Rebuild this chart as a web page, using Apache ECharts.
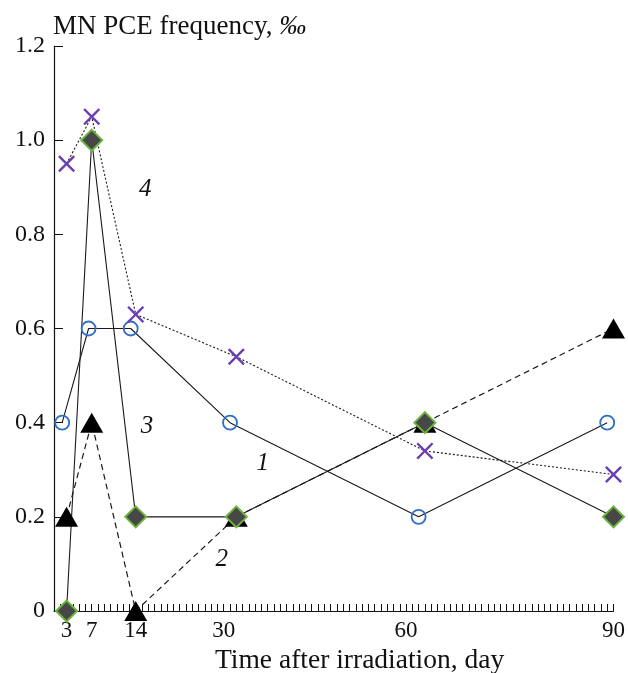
<!DOCTYPE html>
<html>
<head>
<meta charset="utf-8">
<script src="https://cdn.jsdelivr.net/npm/echarts@6/dist/echarts.min.js"></script>
<style>
  html, body { margin: 0; padding: 0; background: #fff; }
  #chart { width: 628px; height: 673px; }
</style>
</head>
<body>
<div id="chart"></div>
<script>
// x positions (days); curve 1 is printed ~1 day left of the others
var days1 = [2.3, 6.5, 13.2, 29, 59, 89];
var days = [3, 7, 14, 30, 60, 90];
var curve1 = [0.4, 0.6, 0.6, 0.4, 0.2, 0.4];
var curve2 = [0.2, 0.4, 0, 0.2, 0.4, 0.6];
var curve3 = [0, 1.0, 0.2, 0.2, 0.4, 0.2];
var curve4 = [0.95, 1.05, 0.63, 0.54, 0.34, 0.29];

// tick labels and the day where the figure prints them
var xTickLabels = ['3', '7', '14', '30', '60', '90'];
var xTickAt = [3, 7, 14, 28, 57, 90];

// curve numbers written on the plot
var curveNames = ['1', '2', '3', '4'];
var curveNameDay = [34.2, 27.7, 15.8, 15.5];
var curveNameValue = [0.314, 0.110, 0.392, 0.896];

var serif = '"Liberation Serif", "DejaVu Serif", serif';

function zip(xs, ys) {
  return xs.map(function (x, i) { return [x, ys[i]]; });
}

// a label for a curve, placed in data coordinates
function curveLabel(i) {
  return {
    symbol: 'circle',
    symbolSize: 1,
    itemStyle: { color: 'transparent' },
    label: {
      show: true,
      position: 'inside',
      formatter: curveNames[i],
      color: '#111',
      fontFamily: serif,
      fontStyle: 'italic',
      fontSize: 25
    },
    data: [{ coord: [curveNameDay[i], curveNameValue[i]] }]
  };
}

var lineColor = '#1a1a1a';

var option = {
  backgroundColor: '#fff',
  animation: false,
  title: [
    {
      text: 'MN PCE frequency, {i|‰}',
      left: 48,
      top: 8,
      textStyle: {
        fontFamily: serif,
        fontSize: 27,
        fontWeight: 'normal',
        color: '#111',
        rich: { i: { fontFamily: serif, fontSize: 27, fontStyle: 'italic', color: '#111' } }
      }
    },
    {
      text: 'Time after irradiation, day',
      left: 210,
      top: 642,
      textStyle: { fontFamily: serif, fontSize: 27.5, fontWeight: 'normal', color: '#111' }
    }
  ],
  grid: { left: 54, right: 14, top: 46, bottom: 62, containLabel: false },
  xAxis: {
    type: 'value',
    min: 1,
    max: 90,
    interval: 1,
    splitLine: { show: false },
    axisLine: { lineStyle: { color: '#111', width: 1.2 } },
    axisTick: { inside: true, length: 7, lineStyle: { color: '#111', width: 1 } },
    axisLabel: {
      margin: 8,
      fontFamily: serif,
      fontSize: 23,
      color: '#111',
      showMinLabel: true,
      showMaxLabel: true,
      formatter: function (v) {
        var i = xTickAt.indexOf(Math.round(v));
        return i < 0 ? '' : xTickLabels[i];
      }
    }
  },
  yAxis: {
    type: 'value',
    min: 0,
    max: 1.2,
    interval: 0.2,
    splitLine: { show: false },
    axisLine: { show: true, lineStyle: { color: '#111', width: 1.2 } },
    axisTick: { show: true, inside: true, length: 9, lineStyle: { color: '#111', width: 1 } },
    axisLabel: {
      margin: 9,
      fontFamily: serif,
      fontSize: 24,
      color: '#111',
      formatter: function (v) { return v === 0 ? '0' : v.toFixed(1); }
    }
  },
  series: [
    {
      name: '1',
      type: 'line',
      data: zip(days1, curve1),
      symbol: 'circle',
      symbolSize: 14,
      itemStyle: { color: 'transparent', borderColor: '#2f6fc4', borderWidth: 1.8 },
      lineStyle: { color: lineColor, width: 1.1 },
      markPoint: curveLabel(0)
    },
    {
      name: '2',
      type: 'line',
      data: zip(days, curve2),
      symbol: 'triangle',
      symbolSize: [23, 20],
      itemStyle: { color: '#000' },
      lineStyle: { color: lineColor, width: 1.2, type: [6, 4] },
      markPoint: curveLabel(1)
    },
    {
      name: '3',
      type: 'line',
      data: zip(days, curve3),
      symbol: 'diamond',
      symbolSize: [21, 21],
      itemStyle: { color: '#474747', borderColor: '#6db33f', borderWidth: 2 },
      lineStyle: { color: lineColor, width: 1.1 },
      markPoint: curveLabel(2)
    },
    {
      name: '4',
      type: 'line',
      data: zip(days, curve4),
      symbol: 'path://M0,1L1,0L5,4L9,0L10,1L6,5L10,9L9,10L5,6L1,10L0,9L4,5Z',
      symbolSize: 17,
      itemStyle: { color: '#6b3fb0' },
      lineStyle: { color: lineColor, width: 1.1, type: [2, 2] },
      markPoint: curveLabel(3)
    }
  ]
};

var myChart = echarts.init(document.getElementById('chart'));
myChart.setOption(option);
</script>
</body>
</html>
